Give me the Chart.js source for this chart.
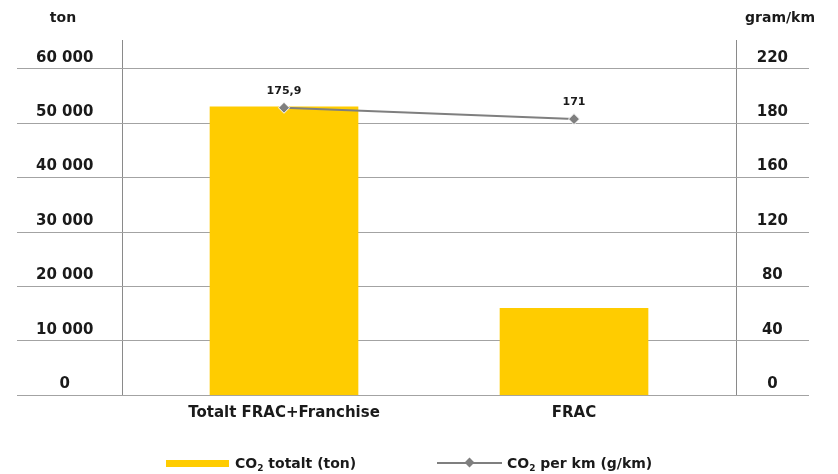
<!DOCTYPE html>
<html><head><meta charset="utf-8">
<script src="https://cdn.jsdelivr.net/npm/chart.js@4/dist/chart.umd.min.js"></script>
<style>
html,body{margin:0;padding:0;background:#fff;}
#wrap{position:relative;width:838px;height:474px;font-family:"DejaVu Sans",sans-serif;color:#1a1a1a;overflow:hidden;}
#c{position:absolute;left:0;top:0;}
.unit{position:absolute;top:8px;font-weight:bold;font-size:14px;transform:translateX(-50%);white-space:nowrap;line-height:18px;}
.leg{position:absolute;top:454px;height:18px;display:flex;align-items:center;font-weight:bold;font-size:14px;white-space:nowrap;}
.leg sub{font-size:9px;vertical-align:-3px;line-height:0;}
.sw-bar{width:63px;height:7px;background:#FFCC00;margin-right:6px;}
.sw-line{position:relative;width:65px;height:10px;margin-right:5px;}
.sw-line .ln{position:absolute;left:0;right:0;top:4px;height:2px;background:#7f7f7f;}
.sw-line .dm{position:absolute;left:29px;top:1px;width:7px;height:7px;background:#7f7f7f;transform:rotate(45deg);}
</style></head>
<body>
<div id="wrap">
<canvas id="c" width="838" height="474"></canvas>
<div class="unit" style="left:63px">ton</div>
<div class="unit" style="left:780px">gram/km</div>
<div class="leg" style="left:166px"><div class="sw-bar"></div><span>CO<sub>2</sub> totalt (ton)</span></div>
<div class="leg" style="left:437px"><div class="sw-line"><div class="ln"></div><div class="dm"></div></div><span>CO<sub>2</sub> per km (g/km)</span></div>
</div>
<script>
// ---- data ----
const categories = ['Totalt FRAC+Franchise', 'FRAC'];
const co2TotalTon = [53000, 16000];
const co2PerKm = [175.9, 171];
const leftTickValues = [0, 10000, 20000, 30000, 40000, 50000, 60000];
const rightTickLabels = ['0', '40', '80', '120', '160', '180', '220'];
const seriesNames = ['CO₂ totalt (ton)', 'CO₂ per km (g/km)'];

// ---- scale layout constants ----
const LEFT_MAX = 65273;
const RIGHT_MIN = 51.2, RIGHT_MAX = 205.3;
const X_MIN = 0.0793, X_MAX = 2.8103, X_FRAME = 0.5586;

const FONT = '"DejaVu Sans", sans-serif';
const TXT = '#1a1a1a';
const fmtThousands = v => String(Math.round(v)).replace(/\B(?=(\d{3})+(?!\d))/g, ' ');
const fmtDec = v => String(v).replace('.', ',');

const valueLabels = {
  id: 'valueLabels',
  afterDatasetsDraw(chart) {
    const ctx = chart.ctx;
    const meta = chart.getDatasetMeta(0);
    ctx.save();
    ctx.font = 'bold 11px ' + FONT;
    ctx.fillStyle = TXT;
    ctx.textAlign = 'center';
    ctx.textBaseline = 'middle';
    meta.data.forEach((pt, i) => {
      ctx.fillText(fmtDec(co2PerKm[i]), pt.x, pt.y - 17);
    });
    ctx.restore();
  }
};

new Chart(document.getElementById('c'), {
  type: 'bar',
  data: {
    datasets: [
      {
        type: 'line',
        label: seriesNames[1],
        data: co2PerKm.map((v, i) => ({ x: i + 1, y: v })),
        yAxisID: 'y1',
        borderColor: '#7f7f7f',
        backgroundColor: '#7f7f7f',
        borderWidth: 2,
        pointStyle: 'rectRot',
        pointRadius: 5.5,
        pointBorderColor: '#ffffff',
        pointBorderWidth: 1,
        order: 0
      },
      {
        type: 'bar',
        label: seriesNames[0],
        data: co2TotalTon.map((v, i) => ({ x: i + 1, y: v })),
        yAxisID: 'y',
        backgroundColor: '#FFCC00',
        barThickness: 148,
        order: 1
      }
    ]
  },
  options: {
    responsive: false,
    animation: false,
    layout: { padding: { left: 17, right: 29, top: 40, bottom: 51.7 } },
    plugins: { legend: { display: false }, tooltip: { enabled: false } },
    scales: {
      x: {
        type: 'linear', min: X_MIN, max: X_MAX, offset: false,
        afterBuildTicks: s => {
          s.ticks = [{ value: 1 - X_FRAME }]
            .concat(categories.map((c, i) => ({ value: i + 1 })))
            .concat([{ value: categories.length + X_FRAME }]);
        },
        afterFit: s => { s.height = 27; },
        ticks: {
          autoSkip: false, maxRotation: 0, padding: 9,
          font: { family: FONT, size: 15, weight: 'bold' }, color: TXT,
          callback: v => Number.isInteger(v) && categories[v - 1] ? categories[v - 1] : ''
        },
        grid: {
          offset: false,
          drawTicks: false,
          color: c => (c.tick && Number.isInteger(c.tick.value)) ? 'rgba(0,0,0,0)' : '#8a8a8a'
        },
        border: { display: false }
      },
      y: {
        position: 'left', min: 0, max: LEFT_MAX,
        afterBuildTicks: s => { s.ticks = leftTickValues.map(v => ({ value: v })); },
        afterFit: s => { s.width = 0; },
        ticks: {
          mirror: true, crossAlign: 'center', padding: 19, labelOffset: -11,
          font: { family: FONT, size: 15, weight: 'bold' }, color: TXT,
          callback: v => fmtThousands(v)
        },
        grid: { drawTicks: false, color: '#a3a3a3' },
        border: { display: false }
      },
      y1: {
        position: 'right', min: RIGHT_MIN, max: RIGHT_MAX,
        afterBuildTicks: s => {
          s.ticks = leftTickValues.map(v => ({ value: RIGHT_MIN + v / LEFT_MAX * (RIGHT_MAX - RIGHT_MIN) }));
        },
        afterFit: s => { s.width = 0; },
        ticks: {
          mirror: true, crossAlign: 'center', padding: -21, labelOffset: -11,
          font: { family: FONT, size: 15, weight: 'bold' }, color: TXT,
          callback: (v, i) => rightTickLabels[i]
        },
        grid: { display: false },
        border: { display: false }
      }
    }
  },
  plugins: [valueLabels]
});
</script>
</body></html>
